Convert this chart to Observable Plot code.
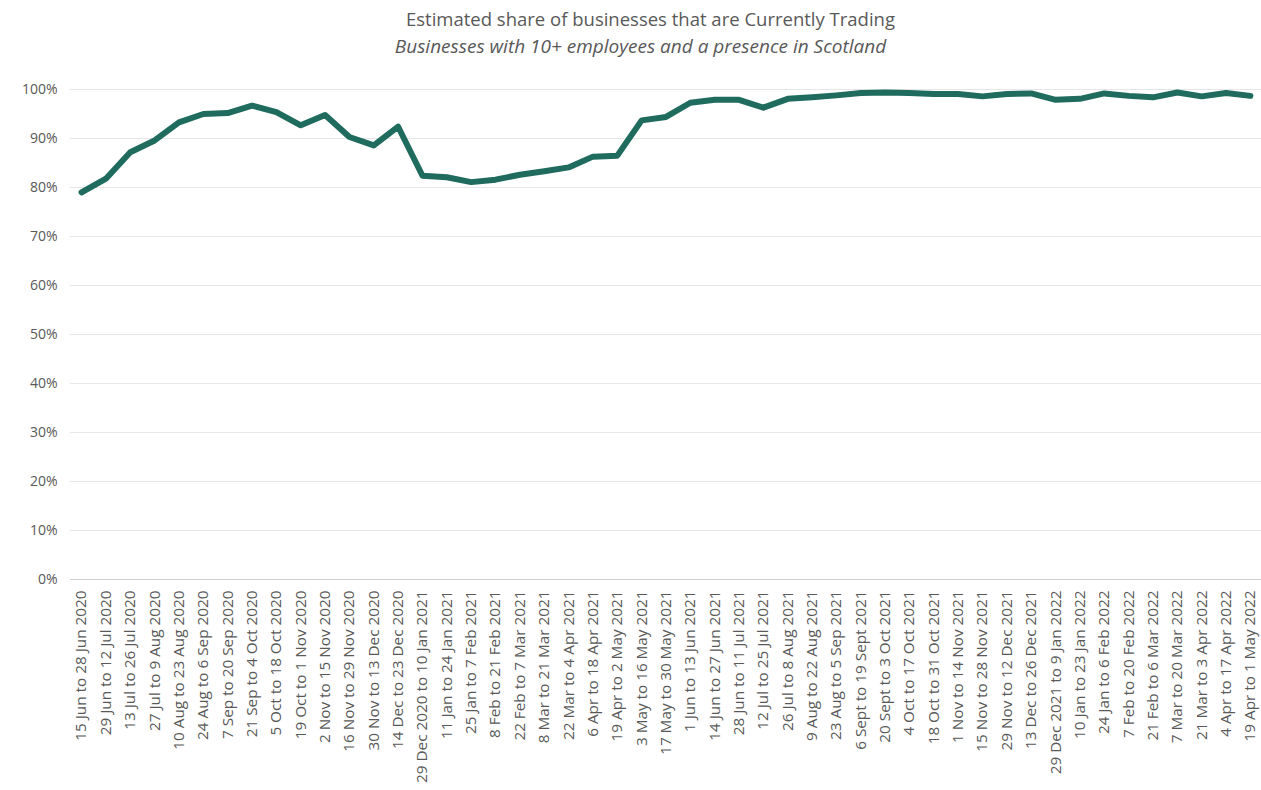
<!DOCTYPE html>
<html>
<head>
<meta charset="utf-8">
<script src="https://cdn.jsdelivr.net/npm/d3@7"></script>
<script src="https://cdn.jsdelivr.net/npm/@observablehq/plot@0.6"></script>
<style>
  body { margin: 0; background: #fff; }
  #wrap { width: 1261px; }
  .title { font-family: "Open Sans", sans-serif; color: #595959; text-align: center; }
  .t1 { font-size: 18.5px; padding-top: 6px; line-height: 26px; padding-left: 40px; }
  .t2 { font-size: 19px; font-style: italic; line-height: 28px; height: 43px; padding-left: 20px; }
</style>
</head>
<body>
<div id="wrap">
  <div class="title t1">Estimated share of businesses that are Currently Trading</div>
  <div class="title t2">Businesses with 10+ employees and a presence in Scotland</div>
  <div id="chart"></div>
</div>
<script>
const periods = [
  "15 Jun to 28 Jun 2020", "29 Jun to 12 Jul 2020", "13 Jul to 26 Jul 2020", "27 Jul to 9 Aug 2020",
  "10 Aug to 23 Aug 2020", "24 Aug to 6 Sep 2020", "7 Sep to 20 Sep 2020", "21 Sep to 4 Oct 2020",
  "5 Oct to 18 Oct 2020", "19 Oct to 1 Nov 2020", "2 Nov to 15 Nov 2020", "16 Nov to 29 Nov 2020",
  "30 Nov to 13 Dec 2020", "14 Dec to 23 Dec 2020", "29 Dec 2020 to 10 Jan 2021", "11 Jan to 24 Jan 2021",
  "25 Jan to 7 Feb 2021", "8 Feb to 21 Feb 2021", "22 Feb to 7 Mar 2021", "8 Mar to 21 Mar 2021",
  "22 Mar to 4 Apr 2021", "6 Apr to 18 Apr 2021", "19 Apr to 2 May 2021", "3 May to 16 May 2021",
  "17 May to 30 May 2021", "1 Jun to 13 Jun 2021", "14 Jun to 27 Jun 2021", "28 Jun to 11 Jul 2021",
  "12 Jul to 25 Jul 2021", "26 Jul to 8 Aug 2021", "9 Aug to 22 Aug 2021", "23 Aug to 5 Sep 2021",
  "6 Sept to 19 Sept 2021", "20 Sept to 3 Oct 2021", "4 Oct to 17 Oct 2021", "18 Oct to 31 Oct 2021",
  "1 Nov to 14 Nov 2021", "15 Nov to 28 Nov 2021", "29 Nov to 12 Dec 2021", "13 Dec to 26 Dec 2021",
  "29 Dec 2021 to 9 Jan 2022", "10 Jan to 23 Jan 2022", "24 Jan to 6 Feb 2022", "7 Feb to 20 Feb 2022",
  "21 Feb to 6 Mar 2022", "7 Mar to 20 Mar 2022", "21 Mar to 3 Apr 2022", "4 Apr to 17 Apr 2022",
  "19 Apr to 1 May 2022"
];
const share = [
  79.0, 81.8, 87.2, 89.6, 93.3, 95.0, 95.2, 96.7, 95.4, 92.7, 94.8, 90.3, 88.6, 92.4,
  82.4, 82.1, 81.1, 81.6, 82.6, 83.3, 84.1, 86.3, 86.5, 93.7, 94.4, 97.3, 97.9, 97.9,
  96.3, 98.1, 98.4, 98.8, 99.3, 99.4, 99.3, 99.1, 99.1, 98.6, 99.1, 99.2, 97.9, 98.1,
  99.2, 98.7, 98.4, 99.4, 98.6, 99.3, 98.7
];
const yTicks = [0, 10, 20, 30, 40, 50, 60, 70, 80, 90, 100];

const data = periods.map((p, i) => ({period: p, share: share[i]}));

const chart = Plot.plot({
  width: 1261,
  height: 715,
  marginTop: 14,
  marginBottom: 211,
  marginLeft: 70,
  marginRight: 0,
  style: {fontFamily: "Open Sans, sans-serif", color: "#595959", background: "#fff"},
  x: {type: "point", domain: periods, padding: 0.455, round: false, label: null},
  y: {domain: [0, 100], label: null},
  marks: [
    Plot.ruleY(yTicks.filter(d => d > 0), {stroke: "#e6e6e6", strokeWidth: 1}),
    Plot.ruleY([0], {stroke: "#d0d0d0", strokeWidth: 1}),
    Plot.axisY({ticks: yTicks, tickFormat: d => d + "%", tickSize: 0, tickPadding: 13, fontSize: 14, label: null}),
    Plot.axisX({tickRotate: -90, tickSize: 0, tickPadding: 11, fontSize: 15.3, label: null}),
    Plot.lineY(data, {x: "period", y: "share", stroke: "#1f6b5e", strokeWidth: 6, strokeLinejoin: "round", strokeLinecap: "round"})
  ]
});
document.getElementById("chart").appendChild(chart);
</script>
</body>
</html>
